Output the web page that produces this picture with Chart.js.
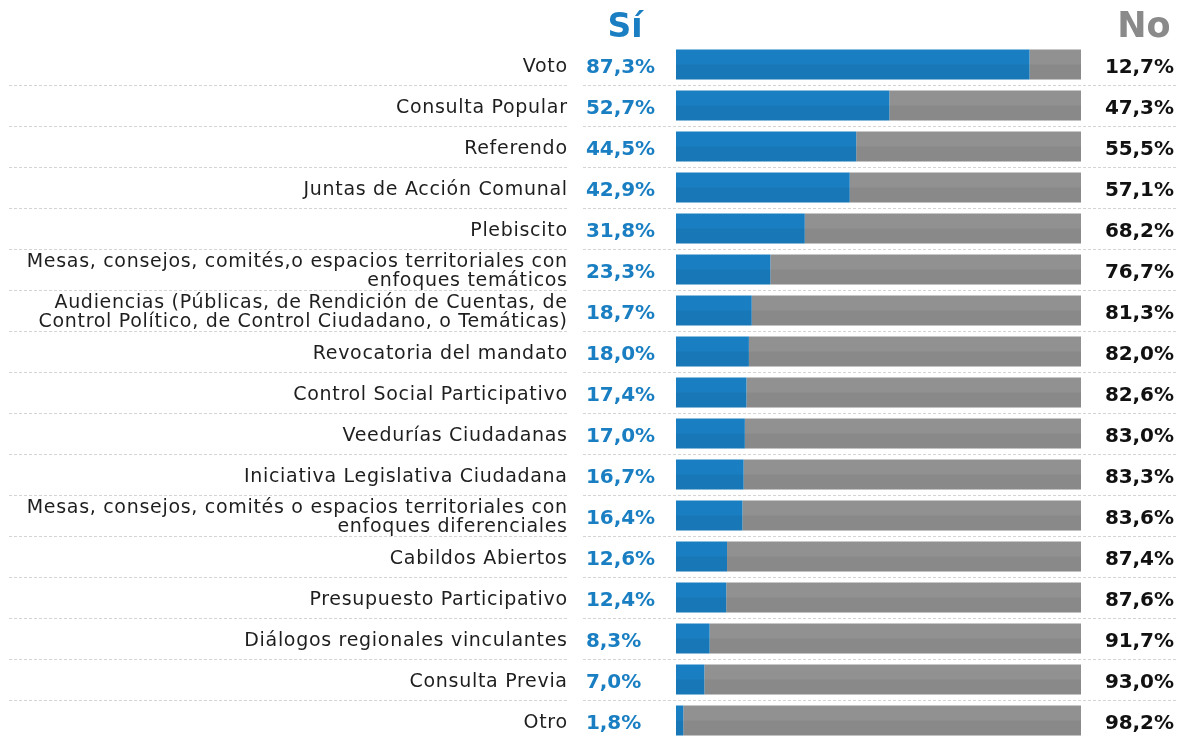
<!DOCTYPE html>
<html>
<head>
<meta charset="utf-8">
<script src="https://cdn.jsdelivr.net/npm/chart.js@4.4.1/dist/chart.umd.min.js"></script>
<style>
html,body{margin:0;padding:0;background:#fff;overflow:hidden;}
#wrap{position:relative;width:1180px;height:738px;overflow:hidden;}
canvas{display:block;}
</style>
</head>
<body>
<div id="wrap"><canvas id="c" width="1180" height="741"></canvas></div>
<script>
const categories = [
  ["Voto"],
  ["Consulta Popular"],
  ["Referendo"],
  ["Juntas de Acción Comunal"],
  ["Plebiscito"],
  ["Mesas, consejos, comités,o espacios territoriales con", "enfoques temáticos"],
  ["Audiencias (Públicas, de Rendición de Cuentas, de", "Control Político, de Control Ciudadano, o Temáticas)"],
  ["Revocatoria del mandato"],
  ["Control Social Participativo"],
  ["Veedurías Ciudadanas"],
  ["Iniciativa Legislativa Ciudadana"],
  ["Mesas, consejos, comités o espacios territoriales con", "enfoques diferenciales"],
  ["Cabildos Abiertos"],
  ["Presupuesto Participativo"],
  ["Diálogos regionales vinculantes"],
  ["Consulta Previa"],
  ["Otro"]
];
const siValues = [87.3, 52.7, 44.5, 42.9, 31.8, 23.3, 18.7, 18.0, 17.4, 17.0, 16.7, 16.4, 12.6, 12.4, 8.3, 7.0, 1.8];
const noValues = [12.7, 47.3, 55.5, 57.1, 68.2, 76.7, 81.3, 82.0, 82.6, 83.0, 83.3, 83.6, 87.4, 87.6, 91.7, 93.0, 98.2];
const seriesNames = ["Sí", "No"];

const FONT = "'DejaVu Sans', sans-serif";
const BLUE = '#1a7fc2';
const GRAY = '#919191';
const fmt = v => v.toFixed(1).replace('.', ',') + '%';

function spacingFor(ctx, font, text, target) {
  ctx.save();
  ctx.font = font;
  ctx.letterSpacing = '0px';
  const w = ctx.measureText(text).width;
  ctx.restore();
  return ((target - w) / text.length) + 'px';
}

const decor = {
  id: 'decor',
  beforeDatasetsDraw(chart) {
    const ctx = chart.ctx, y = chart.scales.y;
    ctx.save();
    ctx.strokeStyle = '#d4d4d4';
    ctx.lineWidth = 1;
    ctx.setLineDash([3, 2]);
    for (let i = 0; i < categories.length - 1; i++) {
      const p = Math.round((y.getPixelForValue(i) + y.getPixelForValue(i + 1)) / 2) + 0.5;
      ctx.beginPath(); ctx.moveTo(9, p); ctx.lineTo(568, p); ctx.stroke();
      ctx.beginPath(); ctx.moveTo(583, p); ctx.lineTo(1176, p); ctx.stroke();
    }
    ctx.restore();
  },
  afterDatasetsDraw(chart) {
    const ctx = chart.ctx, y = chart.scales.y;
    ctx.save();
    // subtle darker lower half on each bar
    ctx.fillStyle = 'rgba(0,0,0,0.055)';
    chart.data.datasets.forEach((ds, di) => {
      chart.getDatasetMeta(di).data.forEach(el => {
        const p = el.getProps(['x', 'y', 'base', 'height'], true);
        ctx.fillRect(Math.min(p.base, p.x), p.y, Math.abs(p.x - p.base), p.height / 2);
      });
    });
    ctx.textBaseline = 'middle';
    // category labels
    const lf = "19px " + FONT;
    const ls = spacingFor(ctx, lf, "Mesas, consejos, comités,o espacios territoriales con", 541);
    ctx.font = lf; ctx.letterSpacing = ls;
    ctx.fillStyle = '#1e1e1e'; ctx.textAlign = 'right';
    for (let i = 0; i < categories.length; i++) {
      const py = y.getPixelForValue(i);
      const lines = categories[i];
      const lh = 19;
      lines.forEach((t, k) => {
        const off = (k - (lines.length - 1) / 2) * lh;
        ctx.fillText(t, 567 + parseFloat(ls), py + off + 2.5);
      });
    }
    // value labels
    const vf = "bold 20px " + FONT;
    const vs = spacingFor(ctx, vf, "87,3%", 69);
    ctx.font = vf; ctx.letterSpacing = vs;
    for (let i = 0; i < categories.length; i++) {
      const py = y.getPixelForValue(i) + 3;
      ctx.fillStyle = '#1a7fc2'; ctx.textAlign = 'left';
      ctx.fillText(fmt(siValues[i]), 586, py);
      ctx.fillStyle = '#111'; ctx.textAlign = 'right';
      ctx.fillText(fmt(noValues[i]), 1174 + parseFloat(vs), py);
    }
    // headers
    ctx.letterSpacing = '0px';
    ctx.textAlign = 'center';
    ctx.textBaseline = 'alphabetic';
    ctx.font = "bold 33px " + FONT;
    ctx.fillStyle = '#1a7fc2';
    ctx.fillText(seriesNames[0], 625, 37);
    ctx.font = "bold 35px " + FONT;
    ctx.fillStyle = '#8a8a8a';
    ctx.fillText(seriesNames[1], 1144, 37);
    ctx.restore();
  }
};

new Chart(document.getElementById('c'), {
  type: 'bar',
  data: {
    labels: categories.map(l => l.join(' ')),
    datasets: [
      { label: seriesNames[0], data: siValues, backgroundColor: BLUE, borderWidth: 0 },
      { label: seriesNames[1], data: noValues, backgroundColor: GRAY, borderWidth: 0 }
    ]
  },
  options: {
    indexAxis: 'y',
    responsive: false,
    animation: false,
    layout: { padding: { left: 676, right: 99, top: 44, bottom: 0 } },
    datasets: { bar: { barPercentage: 0.732, categoryPercentage: 1 } },
    scales: {
      x: { stacked: true, min: 0, max: 100, display: false },
      y: { stacked: true, display: false }
    },
    plugins: { legend: { display: false }, tooltip: { enabled: false } }
  },
  plugins: [decor]
});
</script>
</body>
</html>
